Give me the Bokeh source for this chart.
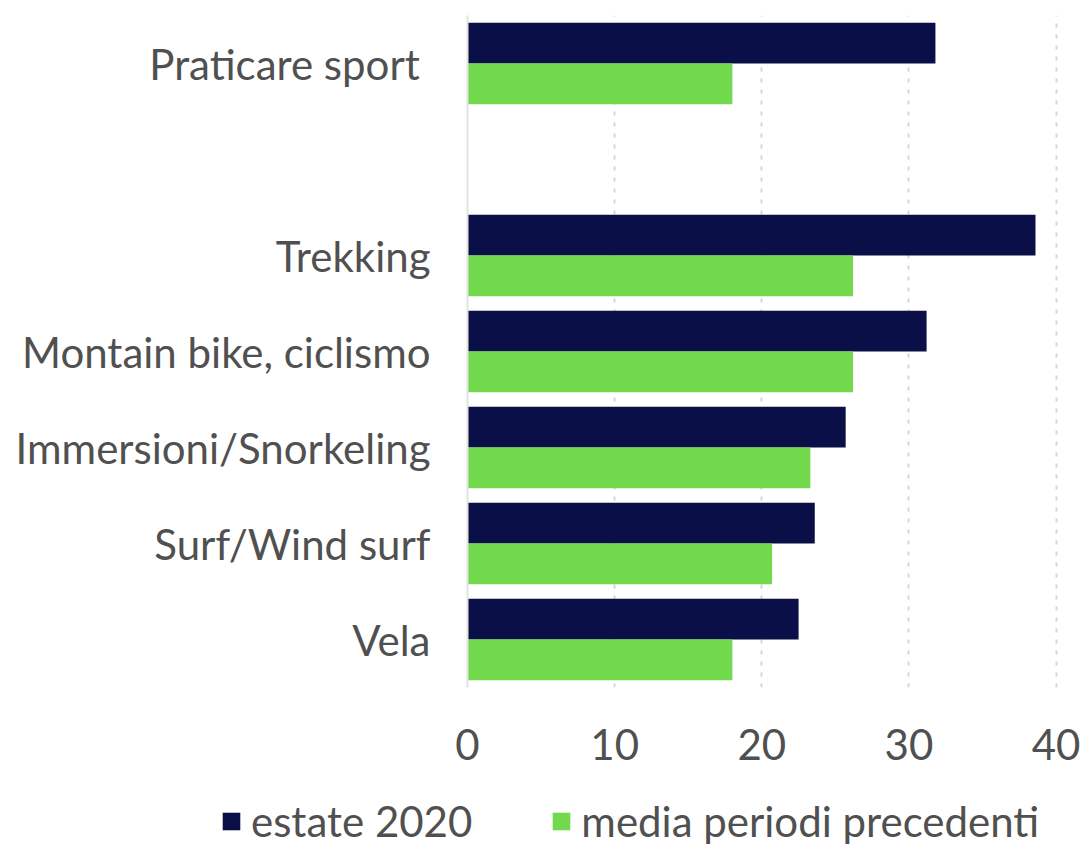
from bokeh.plotting import figure
from bokeh.models import ColumnDataSource, FactorRange, Range1d, FixedTicker, Legend, LegendItem
from bokeh.layouts import column
from bokeh.transform import dodge
from bokeh.embed import file_html
from bokeh.resources import INLINE

categories = ["Praticare sport ", "Trekking", "Montain bike, ciclismo",
              "Immersioni/Snorkeling", "Surf/Wind surf", "Vela"]
estate_2020 = [31.8, 38.6, 31.2, 25.7, 23.6, 22.5]
media_precedenti = [18.0, 26.2, 26.2, 23.3, 20.7, 18.0]
series_names = ["estate 2020", "media periodi precedenti"]
x_ticks = [0, 10, 20, 30, 40]

NAVY = "#0a0f47"
GREEN = "#72d84c"
TEXT = "#505050"
FONT = "Lato"
FS = "42px"

# factor order bottom-to-top; a blank slot separates the first category
factors = list(reversed(categories[1:])) + [" "] + [categories[0]]

src = ColumnDataSource(dict(cat=categories, a=estate_2020, b=media_precedenti))

p = figure(width=1089, height=772, y_range=FactorRange(*factors),
           x_range=Range1d(0, 40.3), output_backend="svg", toolbar_location=None,
           min_border_left=467, min_border_right=29, min_border_top=15, min_border_bottom=85)
p.outline_line_color = None
p.frame_align = False

r1 = p.hbar(y=dodge("cat", 0.212, range=p.y_range), right="a", left=0, height=0.425,
            source=src, fill_color=NAVY, line_color=None)
r2 = p.hbar(y=dodge("cat", -0.212, range=p.y_range), right="b", left=0, height=0.425,
            source=src, fill_color=GREEN, line_color=None)

p.ygrid.grid_line_color = None
p.xgrid.ticker = FixedTicker(ticks=x_ticks[1:])
p.xgrid.grid_line_color = "#d6d6d6"
p.xgrid.grid_line_width = 2
p.xgrid.grid_line_dash = "4 7"

p.xaxis.ticker = FixedTicker(ticks=x_ticks)
p.xaxis.axis_line_color = None
p.xaxis.major_tick_line_color = None
p.xaxis.minor_tick_line_color = None
p.xaxis.major_label_text_font = FONT
p.xaxis.major_label_text_font_size = FS
p.xaxis.major_label_text_color = TEXT
p.xaxis.major_label_standoff = 35

p.yaxis.axis_line_color = "#e4e4e4"
p.yaxis.axis_line_width = 2
p.yaxis.major_tick_line_color = None
p.yaxis.minor_tick_line_color = None
p.yaxis.major_label_text_font = FONT
p.yaxis.major_label_text_font_size = FS
p.yaxis.major_label_text_color = TEXT
p.yaxis.major_label_standoff = 31

# legend strip below the chart (its own frame spans the full width)
lg = figure(width=1089, height=74, x_range=Range1d(0, 1), y_range=Range1d(0, 1),
            output_backend="svg", toolbar_location=None,
            min_border_left=0, min_border_right=0, min_border_top=0, min_border_bottom=0)
lg.frame_align = False
lg.outline_line_color = None
lg.axis.visible = False
lg.grid.grid_line_color = None
swatch = ColumnDataSource(dict(y=[0], right=[0]))
l1 = lg.hbar(y="y", right="right", left=0, height=0.0, source=swatch, fill_color=NAVY, line_color=None)
l2 = lg.hbar(y="y", right="right", left=0, height=0.0, source=swatch, fill_color=GREEN, line_color=None)

legend = Legend(items=[LegendItem(label=series_names[0], renderers=[l1]),
                       LegendItem(label=series_names[1], renderers=[l2])],
                orientation="horizontal", location=(220, 0),
                label_text_font=FONT, label_text_font_size=FS, label_text_color=TEXT,
                glyph_width=22, glyph_height=22, label_standoff=9, spacing=78,
                padding=0, margin=0, border_line_color=None, background_fill_alpha=0)
lg.add_layout(legend, "center")

open("out.html", "w").write(file_html(column(p, lg, spacing=0), INLINE))
